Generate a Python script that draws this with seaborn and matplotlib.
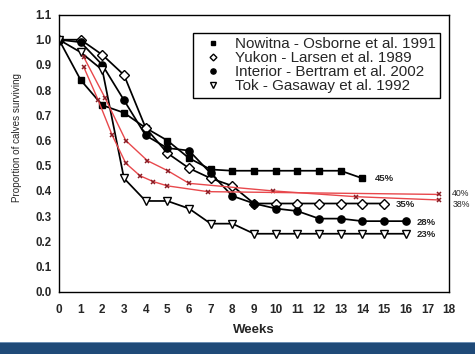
import numpy as np
import pandas as pd
import matplotlib
matplotlib.use("Agg")
import matplotlib.pyplot as plt
import seaborn as sns

# ---- data ----
nowitna_weeks = list(range(0, 15))
nowitna_surv = [1.0, 0.84, 0.74, 0.71, 0.65, 0.60, 0.53, 0.485, 0.48, 0.48, 0.48, 0.48, 0.48, 0.48, 0.45]

yukon_weeks = list(range(0, 16))
yukon_surv = [1.0, 1.0, 0.94, 0.86, 0.65, 0.55, 0.49, 0.45, 0.42, 0.35, 0.35, 0.35, 0.35, 0.35, 0.35, 0.35]

interior_weeks = list(range(0, 17))
interior_surv = [1.0, 0.99, 0.90, 0.76, 0.62, 0.57, 0.56, 0.47, 0.38, 0.35, 0.33, 0.32, 0.29, 0.29, 0.28, 0.28, 0.28]

tok_weeks = list(range(0, 17))
tok_surv = [1.0, 0.95, 0.88, 0.45, 0.36, 0.36, 0.33, 0.27, 0.27, 0.23, 0.23, 0.23, 0.23, 0.23, 0.23, 0.23, 0.23]

red_a_weeks = [1.15, 2.12, 3.08, 4.08, 5.02, 6.0, 9.86, 13.7, 17.55]
red_a_surv = [0.93, 0.77, 0.60, 0.52, 0.48, 0.43, 0.40, 0.377, 0.364]

red_b_weeks = [1.15, 1.81, 2.46, 3.08, 3.74, 4.35, 5.0, 6.87, 17.55]
red_b_surv = [0.89, 0.76, 0.62, 0.51, 0.46, 0.437, 0.42, 0.397, 0.386]

series_names = ["Nowitna - Osborne et al. 1991", "Yukon - Larsen et al. 1989",
                "Interior - Bertram et al. 2002", "Tok - Gasaway et al. 1992"]

end_labels = ["45%", "35%", "28%", "23%"]
end_label_x = [14.6, 15.55, 16.5, 16.5]
end_label_y = [0.45, 0.347, 0.276, 0.228]
red_labels = ["40%", "38%"]
red_label_y = [0.39, 0.345]

x_ticks = list(range(0, 19))
y_ticks = [round(0.1 * i, 1) for i in range(0, 12)]

# ---- figure ----
sns.set_style("white")
plt.rcParams["font.family"] = ["Liberation Sans", "DejaVu Sans"]

fig = plt.figure(figsize=(4.75, 3.54), dpi=100)
ax = fig.add_axes([59 / 475, 1 - 291.7 / 354, 390 / 475, 277.2 / 354])

black_specs = [
    (nowitna_weeks, nowitna_surv, "s", "black", 5.0),
    (yukon_weeks, yukon_surv, "D", "white", 4.8),
    (interior_weeks, interior_surv, "o", "black", 5.2),
    (tok_weeks, tok_surv, "v", "white", 5.6),
]

for (wk, sv, mk, fc, ms), name in zip(black_specs, series_names):
    df = pd.DataFrame({"week": wk, "surv": sv})
    sns.lineplot(data=df, x="week", y="surv", ax=ax, color="black", lw=1.25,
                 marker=mk, markersize=ms, markerfacecolor=fc,
                 markeredgecolor="black", markeredgewidth=1.0,
                 label=name, sort=False, errorbar=None)

for wk, sv in [(red_a_weeks, red_a_surv), (red_b_weeks, red_b_surv)]:
    df = pd.DataFrame({"week": wk, "surv": sv})
    sns.lineplot(data=df, x="week", y="surv", ax=ax, color="#e8484c", lw=1.0,
                 marker="x", markersize=3.2, markeredgecolor="#8a1c24",
                 markeredgewidth=1.1, sort=False, errorbar=None, legend=False)

ax.set_xlim(0, 18)
ax.set_ylim(0, 1.1)
ax.set_xticks(x_ticks)
ax.set_yticks(y_ticks)
ax.set_xticklabels([str(t) for t in x_ticks], fontsize=8.5, fontweight="bold")
ax.set_yticklabels([f"{t:.1f}" for t in y_ticks], fontsize=8.3, fontweight="bold")
ax.tick_params(axis="both", direction="inout", length=5, width=1.0, color="black")
ax.tick_params(axis="x", pad=6)
ax.tick_params(axis="y", pad=3)
for sp in ax.spines.values():
    sp.set_visible(True)
    sp.set_color("black")
    sp.set_linewidth(1.0)

ax.set_xlabel("Weeks", fontsize=9.5, fontweight="bold")
ax.set_ylabel("Proportion of calves surviving", fontsize=7.1)
ax.xaxis.set_label_coords(0.5, -0.115)
ax.yaxis.set_label_coords(-0.095, 0.555)

for lab, lx, ly in zip(end_labels, end_label_x, end_label_y):
    ax.text(lx, ly, lab, fontsize=6.8, fontweight="bold", va="center", ha="left")
for lab, ly in zip(red_labels, red_label_y):
    ax.text(18.15, ly, lab, fontsize=6.3, va="center", ha="left", clip_on=False)

leg = ax.legend(loc="upper left", bbox_to_anchor=(0.344, 0.935), borderaxespad=0,
                frameon=True, fancybox=False, edgecolor="black", framealpha=1,
                fontsize=10.9, handlelength=2.0, handletextpad=0.45,
                labelspacing=0.0, borderpad=0.3, markerscale=0.72)
leg.get_frame().set_linewidth(1.0)
for h in leg.legend_handles:
    h.set_linestyle("none")

# bottom band
fig.patches.append(plt.Rectangle((0, 0), 1, 11 / 354, transform=fig.transFigure,
                                 facecolor="#1f4a78", edgecolor="none", zorder=0))
fig.patches.append(plt.Rectangle((0, 11 / 354), 1, 1.2 / 354, transform=fig.transFigure,
                                 facecolor="#6d8fb3", edgecolor="none", zorder=0))

fig.savefig("out.png", dpi=100)
